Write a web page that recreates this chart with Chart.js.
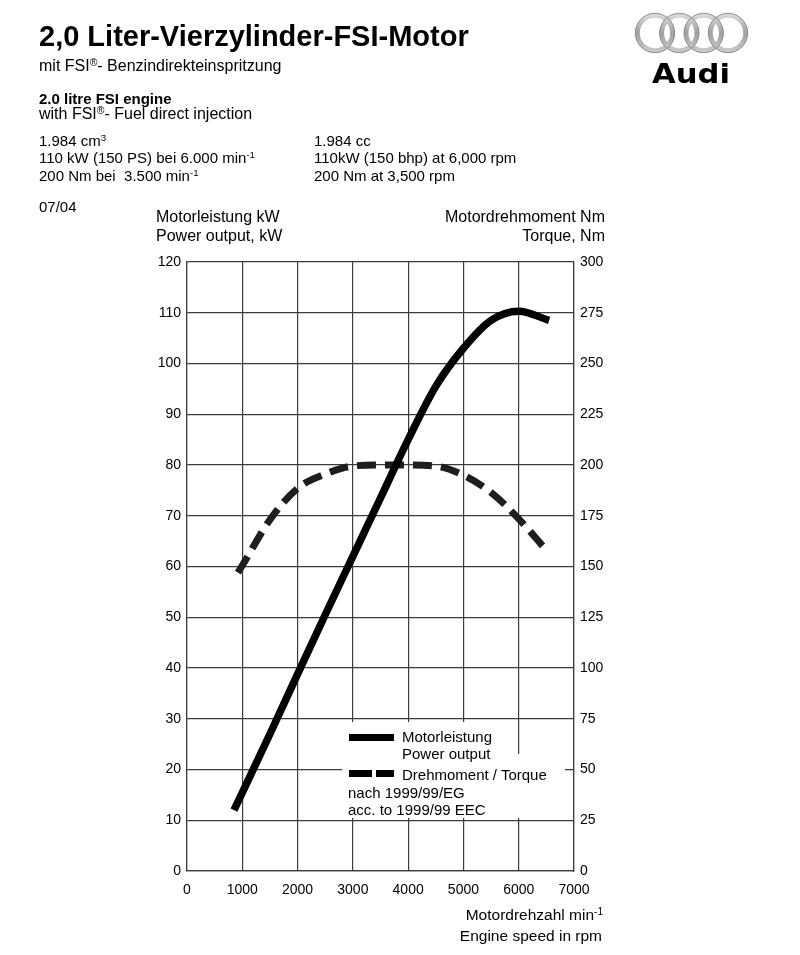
<!DOCTYPE html>
<html>
<head>
<meta charset="utf-8">
<script src="https://cdn.jsdelivr.net/npm/chart.js@4"></script>
<style>
  html, body { margin:0; padding:0; background:#fff; }
  body { width:800px; height:955px; position:relative; overflow:hidden; font-family:"Liberation Sans", Arial, sans-serif; color:#000; }
  #c { position:absolute; left:0; top:0; }
  .t { position:absolute; white-space:nowrap; font-size:15px; line-height:15px; }
  .s16 { font-size:16px; line-height:16px; }
  .b { font-weight:bold; }
  sup { font-size:0.65em; vertical-align:0; position:relative; top:-0.5em; line-height:0; }
  .ax { font-size:16px; line-height:16px; }
  .r { text-align:right; }
  .wbox { position:absolute; background:#fff; }
  .sym { position:absolute; background:#000; height:7px; }
</style>
</head>
<body>
<canvas id="c" width="800" height="955"></canvas>

<div class="t b" style="left:39px; top:22px; font-size:29px; line-height:29px;">2,0 Liter-Vierzylinder-FSI-Motor</div>
<div class="t s16" style="left:39px; top:58px;">mit FSI<sup>®</sup>- Benzindirekteinspritzung</div>
<div class="t b" style="left:39px; top:91px;">2.0 litre FSI engine</div>
<div class="t s16" style="left:39px; top:106px;">with FSI<sup>®</sup>- Fuel direct injection</div>
<div class="t" style="left:39px; top:133px;">1.984 cm<sup>3</sup></div>
<div class="t" style="left:39px; top:150px;">110 kW (150 PS) bei 6.000 min<sup>-1</sup></div>
<div class="t" style="left:39px; top:168px;">200 Nm bei&nbsp; 3.500 min<sup>-1</sup></div>
<div class="t" style="left:314px; top:133px;">1.984 cc</div>
<div class="t" style="left:314px; top:150px;">110kW (150 bhp) at 6,000 rpm</div>
<div class="t" style="left:314px; top:168px;">200 Nm at 3,500 rpm</div>
<div class="t" style="left:39px; top:199px;">07/04</div>

<div class="t ax" style="left:156px; top:209px;">Motorleistung kW</div>
<div class="t ax" style="left:156px; top:228px;">Power output, kW</div>
<div class="t ax r" style="right:195px; top:209px;">Motordrehmoment Nm</div>
<div class="t ax r" style="right:195px; top:228px;">Torque, Nm</div>

<div class="t r" style="right:197px; top:907px; font-size:15.5px; line-height:15.5px;">Motordrehzahl min<sup>-1</sup></div>
<div class="t r" style="right:198px; top:928px; font-size:15.5px; line-height:15.5px;">Engine speed in rpm</div>

<!-- Audi logo -->
<svg style="position:absolute; left:620px; top:0px;" width="150" height="95" viewBox="620 0 150 95">
  <defs>
    <linearGradient id="ring" x1="0" y1="0" x2="0" y2="1">
      <stop offset="0" stop-color="#d9d9d9"/>
      <stop offset="0.5" stop-color="#a0a0a0"/>
      <stop offset="1" stop-color="#c8c8c8"/>
    </linearGradient>
  </defs>
  <g fill="none" stroke="url(#ring)" stroke-width="4.5">
    <circle cx="655" cy="33" r="17.5"/>
    <circle cx="679.3" cy="33" r="17.5"/>
    <circle cx="703.7" cy="33" r="17.5"/>
    <circle cx="728" cy="33" r="17.5"/>
  </g>
  <g fill="none" stroke="#7a7a7a" stroke-width="0.8">
    <circle cx="655" cy="33" r="19.7"/>
    <circle cx="679.3" cy="33" r="19.7"/>
    <circle cx="703.7" cy="33" r="19.7"/>
    <circle cx="728" cy="33" r="19.7"/>
  </g>
  <text x="652" y="83" font-family="DejaVu Sans, Liberation Sans, sans-serif" font-weight="bold" font-size="26" textLength="78" lengthAdjust="spacingAndGlyphs" fill="#000">Audi</text>
</svg>

<!-- legend -->
<div class="wbox" style="left:342px; top:722px; width:163px; height:33px;"></div>
<div class="wbox" style="left:342px; top:754px; width:223px; height:64px;"></div>
<div class="sym" style="left:349px; top:733.5px; width:45px;"></div>
<div class="sym" style="left:349px; top:769.5px; width:23px;"></div>
<div class="sym" style="left:375.5px; top:769.5px; width:18.5px;"></div>
<div class="t" style="left:402px; top:729px;">Motorleistung</div>
<div class="t" style="left:402px; top:746px;">Power output</div>
<div class="t" style="left:402px; top:767px;">Drehmoment / Torque</div>
<div class="t" style="left:348px; top:785px;">nach 1999/99/EG</div>
<div class="t" style="left:348px; top:802px;">acc. to 1999/99 EEC</div>

<script>
// ---- data ----
const powerRpm   = [850, 1500, 2000, 2500, 3000, 3500, 4000, 4500, 5000, 5500, 6000, 6550];
const powerKW    = [12, 27, 38.8, 50.5, 62, 73.5, 85, 95.5, 103, 108.5, 110.3, 108.5];
const torqueRpm  = [920, 1000, 1500, 2000, 2500, 3000, 3500, 4000, 4500, 5000, 5500, 6000, 6500];
const torqueNm   = [147, 150.5, 173, 188.5, 195.5, 199.5, 200, 200, 199.5, 195, 186.5, 173.5, 158];
const xTicks     = [0, 1000, 2000, 3000, 4000, 5000, 6000, 7000];
const kwTicks    = [0, 10, 20, 30, 40, 50, 60, 70, 80, 90, 100, 110, 120];
const nmTicks    = [0, 25, 50, 75, 100, 125, 150, 175, 200, 225, 250, 275, 300];

const pts = (xs, ys) => xs.map((x, i) => ({x, y: ys[i]}));
const gridColor = '#3c3c3c';
const tickFont = {family: '"Liberation Sans", Arial, sans-serif', size: 14};
const plain = v => String(v);

new Chart(document.getElementById('c'), {
  type: 'line',
  data: {
    datasets: [
      {
        label: 'Motorleistung / Power output',
        data: pts(powerRpm, powerKW),
        yAxisID: 'y',
        borderColor: '#000',
        borderWidth: 7.5,
        borderCapStyle: 'butt',
        pointRadius: 0,
        cubicInterpolationMode: 'monotone',
        fill: false
      },
      {
        label: 'Drehmoment / Torque',
        data: pts(torqueRpm, torqueNm),
        yAxisID: 'y2',
        borderColor: '#1e1e1e',
        borderWidth: 7,
        borderDash: [19, 9],
        borderCapStyle: 'butt',
        pointRadius: 0,
        cubicInterpolationMode: 'monotone',
        fill: false
      }
    ]
  },
  options: {
    responsive: false,
    animation: false,
    devicePixelRatio: 1,
    layout: {padding: {top: 262, left: 0, right: 0, bottom: 0}},
    plugins: {legend: {display: false}, tooltip: {enabled: false}},
    scales: {
      x: {
        type: 'linear', min: 0, max: 7000,
        afterBuildTicks: s => { s.ticks = xTicks.map(v => ({value: v})); },
        afterFit: s => { s.height = 84; },
        ticks: {color: '#000', font: tickFont, padding: 11, maxRotation: 0, callback: plain},
        grid: {color: gridColor, lineWidth: 1.2, drawTicks: false},
        border: {color: gridColor, width: 1.2}
      },
      y: {
        position: 'left', min: 0, max: 120,
        afterBuildTicks: s => { s.ticks = kwTicks.map(v => ({value: v})); },
        afterFit: s => { s.width = 187; },
        ticks: {color: '#000', font: tickFont, padding: 6, callback: plain},
        grid: {color: gridColor, lineWidth: 1.2, drawTicks: false},
        border: {color: gridColor, width: 1.2}
      },
      y2: {
        position: 'right', min: 0, max: 300,
        afterBuildTicks: s => { s.ticks = nmTicks.map(v => ({value: v})); },
        afterFit: s => { s.width = 226; },
        ticks: {color: '#000', font: tickFont, padding: 6, callback: plain},
        grid: {drawOnChartArea: false, drawTicks: false},
        border: {color: gridColor, width: 1.2}
      }
    }
  }
});
</script>
</body>
</html>
